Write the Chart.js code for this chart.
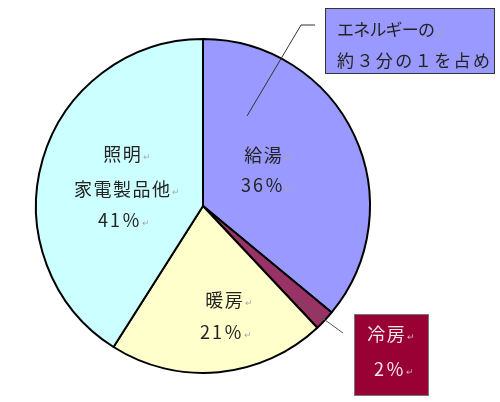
<!DOCTYPE html>
<html><head><meta charset="utf-8">
<script src="https://cdn.jsdelivr.net/npm/chart.js@4"></script>
<style>html,body{margin:0;padding:0;background:#fff;}#wrap{width:500px;height:402px;position:relative}</style>
</head><body><div id="wrap"><canvas id="c" width="500" height="402"></canvas></div>
<script>
const categories = ['給湯', '冷房', '暖房', '照明家電製品他'];
const values = [36, 2, 21, 41];
const sliceLabelLines = [['給湯', '36％'], null, ['暖房', '21％'], ['照明', '家電製品他', '41％']];
const colors = ['#9999FF', '#993366', '#FFFFCC', '#CCFFFF'];
const calloutLines = ['エネルギーの', '約３分の１を占め'];
const coolingLines = ['冷房', '2％'];

const FONT = '"Noto Sans CJK JP", "Noto Sans", sans-serif';

function drawText(ctx, text, x, y, opts) {
  const size = opts.size || 18;
  ctx.save();
  ctx.font = (opts.weight || '400') + ' ' + size + 'px ' + FONT;
  ctx.textBaseline = 'middle';
  ctx.textAlign = 'left';
  let spacing = opts.spacing || 0;
  if (opts.width) {
    ctx.letterSpacing = '0px';
    const nat = ctx.measureText(text).width;
    const n = [...text].length;
    spacing = n > 1 ? (opts.width - nat) / (n - 1) : 0;
  }
  ctx.letterSpacing = spacing + 'px';
  const w = ctx.measureText(text).width - spacing;
  let sx = opts.align === 'center' ? x - w / 2 : x;
  ctx.fillStyle = opts.color || '#222';
  ctx.fillText(text, sx, y);
  if (opts.mark !== false) {
    ctx.letterSpacing = '0px';
    ctx.font = '400 9px ' + FONT;
    ctx.fillStyle = opts.markColor || '#aaa';
    ctx.fillText('↵', sx + w + 2, y + 3);
  }
  ctx.restore();
}

const labelOffsets = [
  [[60, -51], [59, -21]],
  null,
  [[21, 94], [18, 126]],
  [[-81, -52], [-81, -17], [-84, 14]]
];
const labelSpacing = [[1.5, 2], null, [1.5, 2], [1.5, 1.5, 2]];

const annotPlugin = {
  id: 'annot',
  afterDraw(chart) {
    const ctx = chart.ctx;
    const arc0 = chart.getDatasetMeta(0).data[0];
    const cx = arc0.x, cy = arc0.y;
    sliceLabelLines.forEach((lines, i) => {
      if (!lines) return;
      lines.forEach((t, j) => {
        const o = labelOffsets[i][j];
        drawText(ctx, t, cx + o[0], cy + o[1], {align: 'center', spacing: labelSpacing[i][j], color: '#222'});
      });
    });
    ctx.save();
    ctx.strokeStyle = '#333';
    ctx.lineWidth = 1;
    ctx.beginPath();
    ctx.moveTo(247, 116); ctx.lineTo(301, 25); ctx.lineTo(315, 25);
    ctx.stroke();
    ctx.beginPath();
    ctx.moveTo(296, 299); ctx.lineTo(343, 333);
    ctx.strokeStyle = '#555';
    ctx.stroke();
    ctx.fillStyle = '#9999FF';
    ctx.fillRect(325, 8, 170, 66);
    ctx.strokeStyle = '#333';
    ctx.strokeRect(325.5, 8.5, 169, 65);
    ctx.fillStyle = '#990033';
    ctx.fillRect(354, 314, 75, 82);
    ctx.strokeStyle = '#777';
    ctx.strokeRect(354.5, 314.5, 74, 81);
    ctx.restore();
    drawText(ctx, calloutLines[0], 337, 30, {size: 17, width: 98, color: '#222'});
    drawText(ctx, calloutLines[1], 337, 61, {size: 17, width: 153, color: '#222', mark: false});
    drawText(ctx, coolingLines[0], 386, 334, {align: 'center', spacing: 1.5, color: '#F6E6EE', markColor: '#d9a8bc'});
    drawText(ctx, coolingLines[1], 389, 369, {align: 'center', spacing: 2, color: '#F6E6EE', markColor: '#d9a8bc'});
  }
};

new Chart(document.getElementById('c'), {
  type: 'pie',
  data: {
    labels: categories,
    datasets: [{
      data: values,
      backgroundColor: colors,
      borderColor: '#000',
      borderWidth: 2,
      offset: 0,
      hoverOffset: 0
    }]
  },
  options: {
    responsive: false,
    animation: false,
    layout: {padding: {left: 35, right: 129, top: 38, bottom: 28}},
    plugins: {legend: {display: false}, tooltip: {enabled: false}}
  },
  plugins: [annotPlugin]
});
</script></body></html>
